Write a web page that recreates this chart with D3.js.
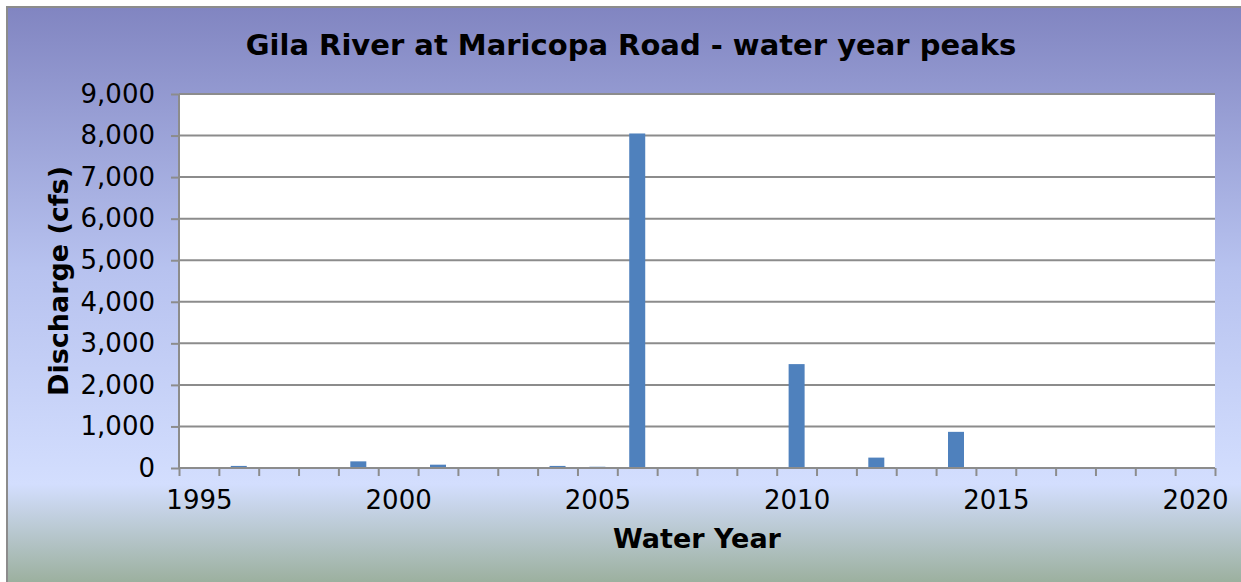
<!DOCTYPE html>
<html>
<head>
<meta charset="utf-8">
<script src="https://cdn.jsdelivr.net/npm/d3@7"></script>
<style>
  body { margin: 0; background: #fff; }
  svg { display: block; font-family: "DejaVu Sans", sans-serif; }
</style>
</head>
<body>
<svg id="vis" width="1241" height="582"></svg>
<script>
// water year peaks
const years = [1996, 1997, 1999, 2001, 2004, 2005, 2006, 2010, 2011, 2012, 2014];
const peaks = [50, 15, 160, 80, 50, 30, 8050, 2500, 15, 250, 870];
const yTicks = [0, 1000, 2000, 3000, 4000, 5000, 6000, 7000, 8000, 9000];
const xLabels = [1995, 2000, 2005, 2010, 2015, 2020];

const svg = d3.select("#vis");
const width = 1241, height = 582;
const margin = {left: 179, right: 26, top: 94, bottom: 114};

// background gradient
const defs = svg.append("defs");
const grad = defs.append("linearGradient")
  .attr("id", "bg")
  .attr("x1", 0).attr("y1", 0).attr("x2", 0).attr("y2", 1);
grad.append("stop").attr("offset", "0%").attr("stop-color", "#8185c1");
grad.append("stop").attr("offset", "45%").attr("stop-color", "#b7c2ef");
grad.append("stop").attr("offset", "82%").attr("stop-color", "#d3defe");
grad.append("stop").attr("offset", "100%").attr("stop-color", "#98ad98");

svg.append("rect")
  .attr("x", 7).attr("y", 7)
  .attr("width", width).attr("height", height)
  .attr("fill", "url(#bg)")
  .attr("stroke", "#8c8c8c")
  .attr("stroke-width", 2);

// date axis: each year is one slot, ticks sit between the slots
const x = d3.scaleLinear()
  .domain([1994.5, 2020.5])
  .range([margin.left, width - margin.right]);

const y = d3.scaleLinear()
  .domain([0, 9000])
  .range([height - margin.bottom, margin.top]);

// plot area
svg.append("rect")
  .attr("x", x(1994.5)).attr("y", y(9000))
  .attr("width", x(2020.5) - x(1994.5))
  .attr("height", y(0) - y(9000))
  .attr("fill", "#fff");

// gridlines
svg.append("g")
  .selectAll("line")
  .data(yTicks.filter(d => d > 0))
  .join("line")
  .attr("x1", x(1994.5)).attr("x2", x(2020.5))
  .attr("y1", d => y(d)).attr("y2", d => y(d))
  .attr("stroke", "#8c8c8c")
  .attr("stroke-width", 2);

// bars
const barW = 16;
svg.append("g")
  .selectAll("rect")
  .data(years.map((yr, i) => ({yr, v: peaks[i]})))
  .join("rect")
  .attr("x", d => x(d.yr) - barW / 2)
  .attr("y", d => y(d.v))
  .attr("width", barW)
  .attr("height", d => y(0) - y(d.v))
  .attr("fill", "#4f81bd");

// y axis
const yAxis = svg.append("g")
  .attr("transform", `translate(${x(1994.5)},0)`)
  .call(d3.axisLeft(y).tickValues(yTicks).tickSize(8).tickPadding(16)
    .tickFormat(d3.format(",")));
yAxis.selectAll("line, path").attr("stroke", "#8c8c8c").attr("stroke-width", 2);
yAxis.select(".domain").attr("d", `M0,${y(9000)}V${y(0)}`);
yAxis.selectAll("text")
  .attr("font-size", 26).attr("fill", "#000")
  .attr("font-family", "DejaVu Sans");

// x axis tick marks
const xAxis = svg.append("g")
  .attr("transform", `translate(0,${y(0)})`)
  .call(d3.axisBottom(x).tickValues(d3.range(1994.5, 2021)).tickSize(8)
    .tickFormat(""));
xAxis.selectAll("line, path").attr("stroke", "#8c8c8c").attr("stroke-width", 2);
xAxis.select(".domain").attr("d", `M${x(1994.5)},0H${x(2020.5)}`);

// x axis labels, centred on their year
const xLab = svg.append("g")
  .attr("transform", `translate(0,${y(0)})`)
  .call(d3.axisBottom(x).tickValues(xLabels).tickSize(0).tickPadding(23)
    .tickFormat(d3.format("d")));
xLab.select(".domain").remove();
xLab.selectAll("line").remove();
xLab.selectAll("text")
  .attr("font-size", 26).attr("fill", "#000")
  .attr("font-family", "DejaVu Sans");

// titles
svg.append("text")
  .attr("x", 631).attr("y", 55)
  .attr("text-anchor", "middle")
  .attr("font-size", 29).attr("font-weight", "bold")
  .text("Gila River at Maricopa Road - water year peaks");

svg.append("text")
  .attr("x", 697).attr("y", 548)
  .attr("text-anchor", "middle")
  .attr("font-size", 27).attr("font-weight", "bold")
  .text("Water Year");

svg.append("text")
  .attr("transform", `translate(68,${(y(0) + y(9000)) / 2}) rotate(-90)`)
  .attr("text-anchor", "middle")
  .attr("font-size", 27).attr("font-weight", "bold")
  .text("Discharge (cfs)");
</script>
</body>
</html>
